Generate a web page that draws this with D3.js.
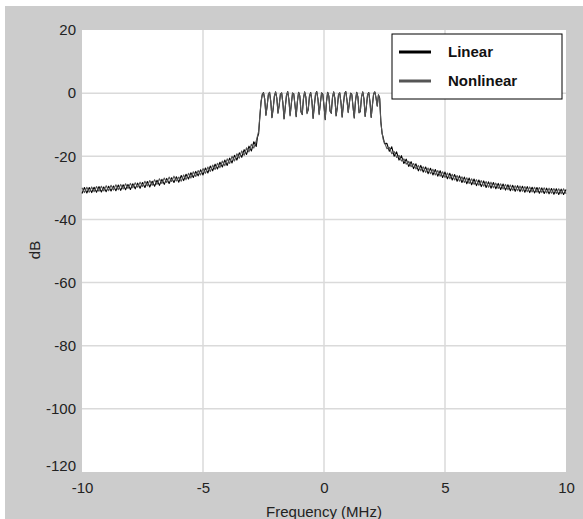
<!DOCTYPE html>
<html>
<head>
<meta charset="utf-8">
<script src="https://cdn.jsdelivr.net/npm/d3@7"></script>
<style>
  body { margin: 0; background: #fff; }
  text { font-family: "Liberation Sans", Arial, sans-serif; }
</style>
</head>
<body>
<div id="chart"></div>
<script>
// frequency grid (MHz)
const freqMHz = [
  -10.0,-9.9,-9.8,-9.7,-9.6,-9.5,-9.4,-9.3,-9.2,-9.1,-9.0,-8.9,-8.8,-8.7,-8.6,-8.5,-8.4,-8.3,-8.2,-8.1,
  -8.0,-7.9,-7.8,-7.7,-7.6,-7.5,-7.4,-7.3,-7.2,-7.1,-7.0,-6.9,-6.8,-6.7,-6.6,-6.5,-6.4,-6.3,-6.2,-6.1,
  -6.0,-5.9,-5.8,-5.7,-5.6,-5.5,-5.4,-5.3,-5.2,-5.1,-5.0,-4.9,-4.8,-4.7,-4.6,-4.5,-4.4,-4.3,-4.2,-4.1,
  -4.0,-3.9,-3.8,-3.7,-3.6,-3.5,-3.4,-3.3,-3.2,-3.1,-3.0,-2.9,-2.8,
  -2.75,-2.7,-2.65,-2.6,
  -2.55,-2.5,-2.45,-2.4,-2.35,-2.3,-2.25,-2.2,-2.15,-2.1,-2.05,-2.0,-1.95,-1.9,-1.85,-1.8,-1.75,-1.7,-1.65,-1.6,
  -1.55,-1.5,-1.45,-1.4,-1.35,-1.3,-1.25,-1.2,-1.15,-1.1,-1.05,-1.0,-0.95,-0.9,-0.85,-0.8,-0.75,-0.7,-0.65,-0.6,
  -0.55,-0.5,-0.45,-0.4,-0.35,-0.3,-0.25,-0.2,-0.15,-0.1,-0.05,0.0,0.05,0.1,0.15,0.2,0.25,0.3,0.35,0.4,
  0.45,0.5,0.55,0.6,0.65,0.7,0.75,0.8,0.85,0.9,0.95,1.0,1.05,1.1,1.15,1.2,1.25,1.3,1.35,1.4,
  1.45,1.5,1.55,1.6,1.65,1.7,1.75,1.8,1.85,1.9,1.95,2.0,2.05,2.1,2.15,2.2,2.25,
  2.3,2.35,2.4,2.45,2.5,
  2.6,2.7,2.8,2.9,3.0,3.1,3.2,3.3,3.4,3.5,3.6,3.7,3.8,3.9,4.0,4.1,4.2,4.3,4.4,4.5,
  4.6,4.7,4.8,4.9,5.0,5.1,5.2,5.3,5.4,5.5,5.6,5.7,5.8,5.9,6.0,6.1,6.2,6.3,6.4,6.5,
  6.6,6.7,6.8,6.9,7.0,7.1,7.2,7.3,7.4,7.5,7.6,7.7,7.8,7.9,8.0,8.1,8.2,8.3,8.4,8.5,
  8.6,8.7,8.8,8.9,9.0,9.1,9.2,9.3,9.4,9.5,9.6,9.7,9.8,9.9,10.0
];

// linear PA output spectrum (dB)
const linearDb = [
  -31.8,-29.9,-31.6,-29.9,-31.5,-29.8,-31.4,-29.6,-31.3,-29.7,-31.2,-29.5,-31.0,-29.4,-30.9,-29.1,-30.8,-29.0,-30.6,-28.9,
  -30.5,-28.7,-30.3,-28.5,-30.1,-28.3,-29.9,-28.0,-29.7,-27.9,-29.5,-27.6,-29.2,-27.3,-28.9,-27.0,-28.6,-26.8,-28.3,-26.5,
  -28.2,-26.1,-27.7,-25.7,-27.2,-25.2,-26.7,-24.8,-26.2,-24.3,-25.9,-23.7,-25.3,-23.1,-24.6,-22.5,-24.0,-21.9,-23.4,-21.2,
  -22.9,-20.6,-22.1,-19.7,-21.2,-18.9,-20.3,-17.9,-19.4,-16.8,-18.3,-15.4,-16.9,
  -14.0,-12.8,-7.5,-2.8,
  -0.5,0.2,-1.8,-6.9,-4.2,-0.6,0.3,-2.5,-7.8,-5.0,-1.0,0.4,-1.5,-6.2,-3.8,-0.3,0.1,-3.0,-8.2,-4.5,
  -0.7,0.5,-2.0,-7.0,-3.5,0.0,-0.2,-3.6,-7.5,-2.8,0.3,-0.8,-5.8,-6.8,-1.9,0.4,-1.2,-6.3,-5.2,-1.0,
  0.2,-2.4,-8.0,-4.1,-0.4,0.5,-1.9,-6.6,-3.3,0.1,-0.3,-4.0,-8.4,-3.0,0.3,-0.9,-5.6,-6.4,-1.5,0.4,
  -1.6,-7.2,-4.6,-0.5,0.1,-2.8,-7.6,-3.7,-0.2,0.5,-2.2,-6.0,-3.1,0.0,-0.4,-4.3,-7.9,-2.6,0.3,-1.1,
  -6.1,-5.9,-1.3,0.4,-1.7,-7.4,-4.4,-0.6,0.2,-2.7,-7.7,-3.9,-0.3,0.4,-1.4,-4.0,-0.5,
  -1.5,-9.0,-12.8,-14.2,-16.0,
  -15.9,-18.4,-17.0,-20.0,-18.6,-21.2,-19.8,-22.3,-20.9,-23.2,-21.7,-23.9,-22.4,-24.6,-22.9,-25.0,-23.4,-25.5,-23.8,-25.9,
  -24.2,-26.3,-24.6,-26.7,-25.0,-27.1,-25.4,-27.5,-25.8,-27.9,-26.2,-28.3,-26.6,-28.7,-26.9,-29.0,-27.2,-29.3,-27.5,-29.6,
  -27.8,-29.9,-28.1,-30.1,-28.3,-30.3,-28.6,-30.5,-28.8,-30.7,-29.0,-30.9,-29.2,-31.1,-29.3,-31.2,-29.5,-31.4,-29.6,-31.5,
  -29.8,-31.6,-29.9,-31.7,-30.0,-31.8,-30.1,-31.9,-30.2,-32.0,-30.3,-32.1,-30.4,-32.1,-30.5
];

// nonlinear PA output spectrum (dB), almost on top of the linear one
const nonlinearDb = [
  -30.0,-31.5,-29.8,-31.4,-29.7,-31.2,-29.6,-31.1,-29.5,-31.0,-29.3,-30.9,-29.2,-30.7,-29.0,-30.6,-28.9,-30.4,-28.7,-30.2,
  -28.6,-30.0,-28.4,-29.8,-28.2,-29.6,-27.9,-29.4,-27.7,-29.2,-27.4,-28.9,-27.1,-28.6,-26.9,-28.3,-26.6,-28.0,-26.3,-27.8,
  -26.6,-27.9,-25.9,-27.4,-25.4,-26.9,-24.9,-26.4,-24.5,-25.9,-23.9,-25.4,-23.4,-24.8,-22.8,-24.2,-22.2,-23.6,-21.5,-23.0,
  -20.8,-22.3,-20.0,-21.5,-19.2,-20.6,-18.3,-19.7,-17.3,-18.6,-16.2,-17.4,-15.1,
  -13.6,-12.0,-7.0,-2.5,
  -0.3,0.1,-2.0,-7.1,-4.0,-0.4,0.2,-2.7,-7.6,-4.8,-0.8,0.3,-1.7,-6.4,-3.6,-0.2,0.0,-3.2,-8.0,-4.3,
  -0.5,0.4,-2.2,-7.2,-3.3,0.1,-0.4,-3.8,-7.3,-2.6,0.2,-1.0,-6.0,-6.6,-1.7,0.3,-1.4,-6.5,-5.0,-0.8,
  0.1,-2.6,-7.8,-3.9,-0.2,0.4,-2.1,-6.8,-3.1,0.0,-0.5,-4.2,-8.2,-2.8,0.2,-1.1,-5.8,-6.2,-1.3,0.3,
  -1.8,-7.0,-4.4,-0.3,0.0,-3.0,-7.4,-3.5,-0.1,0.4,-2.4,-6.2,-2.9,-0.1,-0.6,-4.5,-7.7,-2.4,0.2,-1.3,
  -6.3,-5.7,-1.1,0.3,-1.9,-7.2,-4.2,-0.4,0.1,-2.9,-7.5,-3.7,-0.1,0.3,-1.6,-4.2,-0.7,
  -1.8,-9.5,-12.4,-14.8,-15.6,
  -17.6,-17.2,-19.2,-18.5,-20.4,-19.7,-21.5,-20.8,-22.5,-21.6,-23.3,-22.3,-24.0,-22.9,-24.6,-23.3,-25.1,-23.7,-25.5,-24.1,
  -25.9,-24.5,-26.3,-24.9,-26.7,-25.3,-27.1,-25.7,-27.5,-26.1,-27.9,-26.5,-28.3,-26.8,-28.6,-27.1,-28.9,-27.4,-29.2,-27.7,
  -29.5,-28.0,-29.8,-28.2,-30.0,-28.5,-30.2,-28.7,-30.4,-28.9,-30.6,-29.1,-30.8,-29.3,-30.9,-29.4,-31.1,-29.6,-31.2,-29.7,
  -31.3,-29.8,-31.4,-29.9,-31.5,-30.0,-31.6,-30.1,-31.7,-30.2,-31.8,-30.3,-31.9,-30.3,-31.9
];

const xTicks = [-10, -5, 0, 5, 10];
const yTicks = [20, 0, -20, -40, -60, -80, -100, -120];
const seriesNames = ["Linear", "Nonlinear"];
const seriesColors = ["#000000", "#555555"];

const W = 583, H = 519;
const margin = {top: 30, right: 17, bottom: 47, left: 82};
const plotW = W - margin.left - margin.right,
      plotH = H - margin.top - margin.bottom;

const svg = d3.select("#chart").append("svg")
  .attr("width", W)
  .attr("height", H);

// grey figure background
svg.append("rect")
  .attr("x", 5).attr("y", 6)
  .attr("width", W - 5).attr("height", H - 6)
  .attr("fill", "#cccccc");

const g = svg.append("g")
  .attr("transform", `translate(${margin.left},${margin.top})`);

const x = d3.scaleLinear().domain([-10, 10]).range([0, plotW]);
const y = d3.scaleLinear().domain([-120, 20]).range([plotH, 0]);

g.append("rect")
  .attr("width", plotW).attr("height", plotH)
  .attr("fill", "#ffffff");

// grid
g.append("g")
  .selectAll("line")
  .data(xTicks.slice(1, -1))
  .enter().append("line")
  .attr("x1", d => x(d)).attr("x2", d => x(d))
  .attr("y1", 0).attr("y2", plotH)
  .attr("stroke", "#dadada").attr("stroke-width", 1.5);

g.append("g")
  .selectAll("line")
  .data(yTicks.slice(1, -1))
  .enter().append("line")
  .attr("x1", 0).attr("x2", plotW)
  .attr("y1", d => y(d)).attr("y2", d => y(d))
  .attr("stroke", "#dadada").attr("stroke-width", 1.5);

// axes (labels only, no domain / tick marks); plain hyphen for minus
const fmt = d => String(d);
const xAxis = g.append("g")
  .attr("transform", `translate(0,${plotH})`)
  .call(d3.axisBottom(x).tickValues(xTicks).tickSize(0).tickPadding(10).tickFormat(fmt));
const yAxis = g.append("g")
  .call(d3.axisLeft(y).tickValues(yTicks).tickSize(0).tickPadding(6).tickFormat(fmt));

[xAxis, yAxis].forEach(a => {
  a.select(".domain").remove();
  a.selectAll("text")
    .attr("font-family", "'Liberation Sans', Arial, sans-serif")
    .attr("font-size", 15)
    .attr("fill", "#222");
});
// the bottom y label is lifted a little so it clears the -10 label
yAxis.selectAll(".tick").filter(d => d === -120).select("text").attr("dy", "-0.1em");

// data lines
const data = seriesNames.map((name, i) => ({
  name,
  color: seriesColors[i],
  values: d3.zip(freqMHz, i === 0 ? linearDb : nonlinearDb)
}));

const line = d3.line()
  .x(d => x(d[0]))
  .y(d => y(d[1]));

g.selectAll(".series")
  .data(data)
  .enter().append("path")
  .attr("class", "series")
  .attr("d", d => line(d.values))
  .attr("fill", "none")
  .attr("stroke", d => d.color)
  .attr("stroke-width", 1.1)
  .attr("stroke-linejoin", "round");

// axis titles
svg.append("text")
  .attr("x", margin.left + plotW / 2)
  .attr("y", 517)
  .attr("text-anchor", "middle")
  .attr("font-size", 15)
  .attr("fill", "#222")
  .text("Frequency (MHz)");

svg.append("text")
  .attr("transform", "translate(40,250) rotate(-90)")
  .attr("text-anchor", "middle")
  .attr("font-size", 15)
  .attr("fill", "#222")
  .text("dB");

// legend
const legend = svg.append("g").attr("transform", "translate(392,34)");
legend.append("rect")
  .attr("width", 170).attr("height", 65)
  .attr("fill", "#ffffff")
  .attr("stroke", "#000").attr("stroke-width", 1);

const legendItem = legend.selectAll(".legend-item")
  .data(data)
  .enter().append("g")
  .attr("transform", (d, i) => `translate(0,${18 + i * 29})`);

legendItem.append("line")
  .attr("x1", 7).attr("x2", 39)
  .attr("y1", 0).attr("y2", 0)
  .attr("stroke", d => d.color)
  .attr("stroke-width", 3);

legendItem.append("text")
  .attr("x", 56).attr("y", 5)
  .attr("font-family", "'Noto Sans', sans-serif")
  .attr("font-weight", "bold")
  .attr("font-size", 15)
  .attr("fill", "#111")
  .text(d => d.name);
</script>
</body>
</html>
